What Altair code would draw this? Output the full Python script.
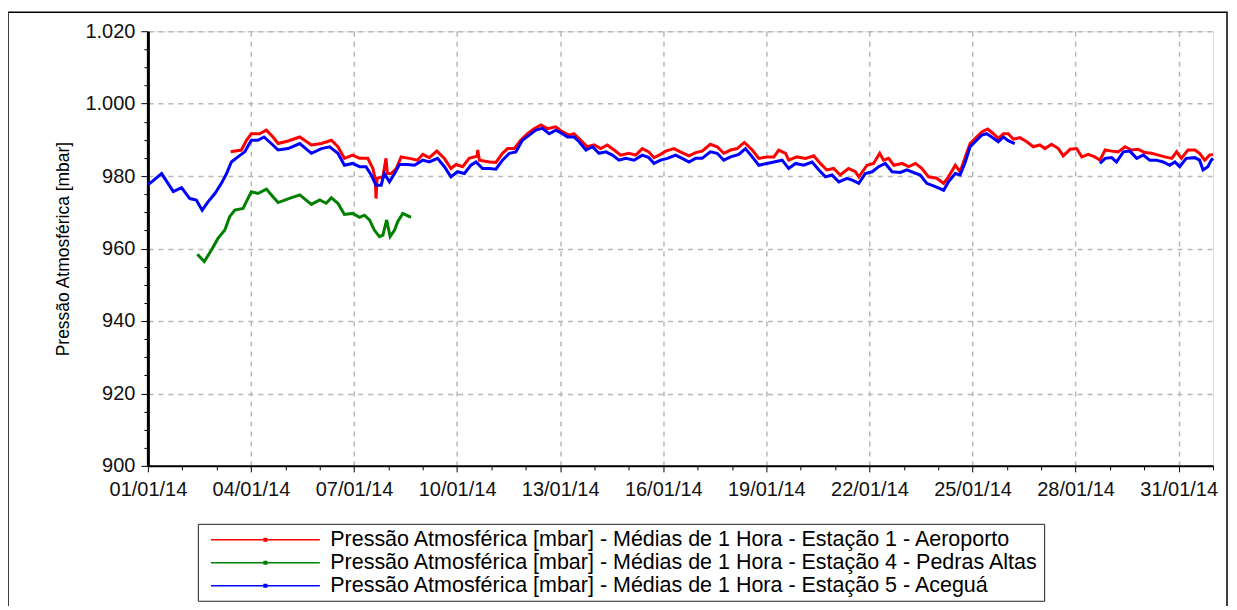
import altair as alt
import pandas as pd

SERIES = [
    "Pressão Atmosférica [mbar] - Médias de 1 Hora - Estação 1 - Aeroporto",
    "Pressão Atmosférica [mbar] - Médias de 1 Hora - Estação 4 - Pedras Altas",
    "Pressão Atmosférica [mbar] - Médias de 1 Hora - Estação 5 - Aceguá",
]
COLORS = ["#ff0000", "#008000", "#0000ff"]

# days elapsed since 01/01/2014 00:00 and pressure (mbar)
red_days = [2.41, 2.72, 2.87, 3.01, 3.25, 3.45, 3.64, 3.79, 4.08, 4.42, 4.76, 5.05, 5.34, 5.53, 5.72, 5.96,
            6.16, 6.4, 6.55, 6.62, 6.64, 6.67, 6.84, 6.93, 6.97, 7.08, 7.23, 7.37, 7.61, 7.85, 8.0, 8.19,
            8.41, 8.63, 8.82, 8.97, 9.16, 9.35, 9.58, 9.6, 9.65, 9.94, 10.13, 10.32, 10.47, 10.66, 10.85,
            11.05, 11.24, 11.44, 11.63, 11.87, 12.07, 12.26, 12.4, 12.6, 12.79, 12.99, 13.18, 13.37, 13.57,
            13.76, 14.0, 14.2, 14.39, 14.58, 14.73, 14.92, 15.07, 15.31, 15.5, 15.75, 15.94, 16.13, 16.37,
            16.57, 16.76, 16.96, 17.15, 17.36, 17.59, 17.78, 18.02, 18.22, 18.36, 18.56, 18.65, 18.89,
            19.14, 19.38, 19.57, 19.76, 19.96, 20.15, 20.39, 20.59, 20.69, 20.93, 21.12, 21.3, 21.41,
            21.56, 21.71, 21.95, 22.14, 22.34, 22.53, 22.72, 22.96, 23.16, 23.3, 23.5, 23.64, 23.79,
            23.93, 24.12, 24.27, 24.44, 24.61, 24.75, 24.9, 25.04, 25.19, 25.38, 25.58, 25.77, 25.96,
            26.11, 26.3, 26.5, 26.64, 26.84, 27.03, 27.18, 27.37, 27.56, 27.71, 27.86, 28.05, 28.24,
            28.44, 28.63, 28.82, 29.02, 29.21, 29.41, 29.6, 29.8, 29.94, 30.08, 30.27, 30.47, 30.61,
            30.76, 30.9, 31.0]
red_vals = [986.7, 987.2, 989.9, 991.7, 991.7, 992.7, 990.8, 989.0, 989.7, 990.8, 988.6, 989.0, 989.9, 988.1,
            984.9, 985.8, 984.9, 984.9, 982.1, 979.0, 973.8, 979.4, 979.8, 984.9, 980.7, 980.7, 982.1,
            985.3, 984.9, 984.4, 986.0, 985.1, 986.9, 984.9, 982.1, 983.2, 982.6, 984.9, 985.5, 987.2,
            984.4, 983.9, 983.8, 986.3, 987.6, 987.6, 989.9, 991.7, 993.1, 994.1, 993.1, 993.6, 992.2,
            991.3, 991.7, 989.9, 988.1, 988.6, 987.6, 988.6, 987.2, 985.8, 986.3, 985.8, 987.6, 986.7,
            985.1, 986.0, 986.9, 987.6, 986.7, 985.6, 986.5, 986.9, 988.8, 988.1, 986.3, 987.2, 987.6,
            989.3, 987.2, 984.9, 985.3, 985.3, 987.2, 986.3, 984.4, 985.3, 984.9, 985.6, 983.5, 981.7,
            982.1, 980.3, 982.1, 981.2, 979.8, 983.0, 983.5, 986.3, 984.4, 984.9, 983.0, 983.5, 982.6,
            983.5, 982.1, 979.8, 979.4, 978.0, 979.8, 983.0, 981.2, 985.3, 989.0, 990.8, 992.2, 993.0,
            991.7, 990.4, 991.7, 991.7, 990.2, 990.6, 989.5, 988.1, 988.6, 987.6, 988.8, 987.6, 985.6,
            987.4, 987.6, 985.3, 986.0, 985.3, 984.4, 987.2, 986.9, 986.7, 988.1, 987.2, 987.4, 986.5,
            986.3, 985.8, 985.3, 984.9, 986.7, 984.9, 987.2, 987.2, 986.3, 984.4, 985.8, 986.0]

green_days = [1.44, 1.64, 1.85, 2.04, 2.24, 2.38, 2.53, 2.77, 2.91, 3.01, 3.2, 3.45, 3.64, 3.79, 4.08, 4.42,
              4.76, 5.0, 5.19, 5.34, 5.53, 5.72, 5.96, 6.16, 6.3, 6.45, 6.59, 6.74, 6.84, 6.95, 7.05, 7.18,
              7.27, 7.42, 7.61, 7.66]
green_vals = [958.4, 956.4, 959.6, 962.8, 965.1, 968.8, 970.6, 971.1, 973.8, 975.7, 975.2, 976.4, 974.3,
              972.7, 973.7, 974.8, 972.2, 973.4, 972.5, 974.0, 972.5, 969.4, 969.7, 968.6, 969.2, 967.9,
              965.1, 963.3, 963.7, 967.9, 963.3, 965.1, 967.4, 969.7, 968.8, 968.8]

blue_days = [0.0, 0.06, 0.4, 0.74, 0.98, 1.22, 1.41, 1.58, 1.75, 1.95, 2.14, 2.29, 2.43, 2.62, 2.82, 3.01,
             3.2, 3.38, 3.59, 3.79, 4.08, 4.42, 4.76, 5.05, 5.29, 5.53, 5.72, 5.96, 6.16, 6.35, 6.5, 6.64,
             6.79, 6.88, 7.03, 7.18, 7.32, 7.56, 7.76, 8.0, 8.19, 8.43, 8.63, 8.82, 9.01, 9.21, 9.4, 9.55,
             9.74, 9.94, 10.13, 10.32, 10.52, 10.71, 10.9, 11.1, 11.29, 11.48, 11.68, 11.87, 12.07, 12.21,
             12.4, 12.55, 12.75, 12.94, 13.13, 13.33, 13.52, 13.71, 13.91, 14.15, 14.39, 14.58, 14.73,
             14.92, 15.12, 15.36, 15.55, 15.75, 15.94, 16.13, 16.37, 16.57, 16.76, 16.96, 17.2, 17.39,
             17.59, 17.78, 18.02, 18.22, 18.46, 18.65, 18.85, 19.09, 19.33, 19.53, 19.72, 19.91, 20.11,
             20.35, 20.5, 20.69, 20.88, 21.08, 21.27, 21.46, 21.66, 21.9, 22.09, 22.28, 22.48, 22.67,
             22.92, 23.16, 23.3, 23.5, 23.64, 23.79, 23.93, 24.12, 24.27, 24.41, 24.56, 24.75, 24.9,
             25.04, 25.23,
             27.71, 27.86, 28.05, 28.19, 28.39, 28.58, 28.78, 28.97, 29.16, 29.35, 29.55, 29.74, 29.89,
             30.03, 30.22, 30.47, 30.61, 30.71, 30.85, 30.95, 31.0]
blue_vals = [978.0, 978.0, 980.7, 975.7, 976.8, 973.8, 973.4, 970.6, 972.9, 975.2, 978.0, 980.7, 983.9,
             985.3, 986.7, 989.9, 989.9, 990.8, 989.0, 987.2, 987.6, 989.0, 986.3, 987.6, 988.1, 986.3,
             983.0, 983.5, 982.6, 982.6, 980.3, 977.5, 977.5, 980.7, 978.4, 980.7, 983.2, 983.2, 983.0,
             984.4, 983.9, 984.9, 982.6, 979.8, 981.2, 980.7, 983.0, 983.9, 982.1, 982.1, 981.9, 984.4,
             986.3, 986.7, 989.9, 991.3, 992.7, 993.2, 991.7, 992.7, 991.7, 990.8, 990.8, 989.5, 987.2,
             988.1, 986.3, 986.7, 985.8, 984.4, 984.9, 984.4, 985.8, 985.1, 983.5, 984.4, 984.9, 985.8,
             984.9, 983.9, 984.9, 984.9, 986.7, 986.3, 984.4, 985.3, 986.0, 987.6, 985.3, 983.0, 983.5,
             983.9, 984.4, 982.1, 983.5, 983.0, 983.9, 981.7, 979.8, 980.3, 978.4, 979.4, 978.9, 978.0,
             980.7, 981.2, 982.6, 983.5, 981.2, 981.0, 981.7, 981.0, 980.3, 978.0, 977.1, 976.1, 978.4,
             980.7, 980.3, 983.9, 988.1, 989.9, 991.3, 991.7, 990.8, 989.5, 990.8, 989.8, 989.0,
             983.5, 984.9, 985.1, 983.9, 986.7, 986.9, 984.9, 985.8, 984.4, 984.4, 983.9, 983.0, 983.9,
             982.6, 984.9, 985.1, 984.4, 981.7, 982.6, 984.4, 984.9]
# the Aceguá record has no data between 25/01 ~05h and 28/01 ~17h
blue_gap_start = 26.0


def make_frame(name, days, vals, gap=None):
    seg = [0 if (gap is None or d < gap) else 1 for d in days]
    return pd.DataFrame({"day": days, "valor": vals, "serie": name, "seg": seg})


df = pd.concat([
    make_frame(SERIES[0], red_days, red_vals),
    make_frame(SERIES[1], green_days, green_vals),
    make_frame(SERIES[2], blue_days, blue_vals, blue_gap_start),
], ignore_index=True)
df["t"] = (pd.Timestamp("2014-01-01") + pd.to_timedelta(df["day"], unit="D")).dt.strftime("%Y-%m-%dT%H:%M:%SZ")
df = df.drop(columns=["day"])

FONT = "Liberation Sans"

x_values = [alt.DateTime(year=2014, month=1, date=d, utc=True) for d in range(1, 32)] + \
           [alt.DateTime(year=2014, month=2, date=1, utc=True)]
x_major = "(utcdate(datum.value) - 1) % 3 == 0 && utcmonth(datum.value) == 0"
y_major = "datum.value % 20 == 0"

legend = alt.Legend(
    title=None, orient="none", legendX=50, legendY=493, direction="vertical",
    strokeColor="#222222", fillColor="white", padding=4,
    symbolType="M-5,0H5M-0.12,-0.12H0.12V0.12H-0.12Z", symbolSize=475,
    symbolStrokeWidth=1.5, symbolOffset=51.6, labelOffset=52.9,
    labelFont=FONT, labelFontSize=21.5, labelColor="black", labelLimit=2000, rowPadding=-4,
)

lines = alt.Chart(df).mark_line(strokeWidth=3).encode(
    x=alt.X(
        "t:T", title=None,
        scale=alt.Scale(type="utc", nice=False,
                        domain=[alt.DateTime(year=2014, month=1, date=1, utc=True),
                                alt.DateTime(year=2014, month=2, date=1, utc=True)]),
        axis=alt.Axis(
            values=x_values,
            labelExpr=f"{x_major} ? utcFormat(datum.value, '%d/%m/%y') : ''",
            labelOverlap=False, labelFont=FONT, labelFontSize=20, labelColor="#111",
            labelPadding=8, labelFlush=False,
            tickSize={"condition": {"test": x_major, "value": 6}, "value": 4},
            tickColor="black", tickWidth=1,
            grid=True, gridDash=[5, 5], gridColor="#b8b8b8", gridWidth=1.5,
            gridOpacity={"condition": {"test": x_major, "value": 1}, "value": 0},
            domainColor="black", domainWidth=2,
        ),
    ),
    y=alt.Y(
        "valor:Q", title="Pressão Atmosférica [mbar]",
        scale=alt.Scale(domain=[900, 1020], nice=False, zero=False),
        axis=alt.Axis(
            values=list(range(900, 1021, 5)),
            labelExpr=f"{y_major} ? replace(format(datum.value, ','), ',', '.') : ''",
            labelOverlap=False, labelFont=FONT, labelFontSize=20, labelColor="#111",
            labelPadding=6,
            tickSize={"condition": {"test": y_major, "value": 7}, "value": 4},
            tickColor="black", tickWidth=1,
            grid=True, gridDash=[5, 5], gridColor="#b8b8b8", gridWidth=1.5,
            gridOpacity={"condition": {"test": y_major, "value": 1}, "value": 0},
            domainColor="black", domainWidth=3,
            titleFont=FONT, titleFontSize=17.5, titleFontWeight="normal", titleColor="black",
            titlePadding=12,
        ),
    ),
    color=alt.Color("serie:N", scale=alt.Scale(domain=SERIES, range=COLORS), legend=legend),
    detail="seg:N",
)

frame = alt.Chart(pd.DataFrame({"k": [0]})).mark_rect(
    fill=None, stroke="black", strokeWidth=1.5
).encode(x=alt.value(-140), x2=alt.value(1080), y=alt.value(-19), y2=alt.value(620))

chart = alt.layer(frame, lines).properties(
    width=1066, height=435,
    padding={"left": 140, "top": 23, "right": 16, "bottom": 140},
    autosize=alt.AutoSizeParams(type="none"),
).configure_view(stroke="#404040", strokeWidth=1).configure(background="white")

chart.save("out.html", embed_options={"renderer": "svg", "actions": False})
